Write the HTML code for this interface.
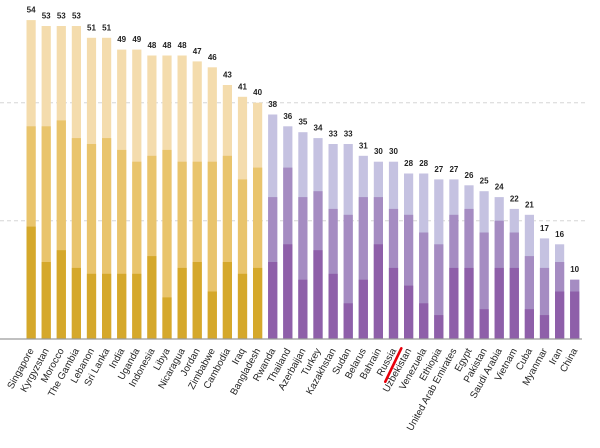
<!DOCTYPE html>
<html><head><meta charset="utf-8"><style>
html,body{margin:0;padding:0;background:#fff;}
svg{display:block;}
.v{font-family:"Liberation Sans",sans-serif;font-size:8px;font-weight:bold;fill:#222;text-anchor:middle;}
.c{font-family:"Liberation Sans",sans-serif;font-size:9.8px;fill:#222;text-anchor:end;}
</style></head><body>
<svg width="600" height="448" viewBox="0 0 600 448" xmlns="http://www.w3.org/2000/svg">
<line x1="0" y1="102.7" x2="586" y2="102.7" stroke="#d6d6d6" stroke-width="1" stroke-dasharray="4,3"/>
<line x1="0" y1="220.7" x2="586" y2="220.7" stroke="#d6d6d6" stroke-width="1" stroke-dasharray="4,3"/>
<g transform="translate(0,338.7) scale(1,-5.9)">
<g fill="#f4dcad">
<rect x="26.5" y="0" width="9.2" height="54"/>
<rect x="41.6" y="0" width="9.2" height="53"/>
<rect x="56.7" y="0" width="9.2" height="53"/>
<rect x="71.8" y="0" width="9.2" height="53"/>
<rect x="86.9" y="0" width="9.2" height="51"/>
<rect x="102.0" y="0" width="9.2" height="51"/>
<rect x="117.1" y="0" width="9.2" height="49"/>
<rect x="132.2" y="0" width="9.2" height="49"/>
<rect x="147.3" y="0" width="9.2" height="48"/>
<rect x="162.4" y="0" width="9.2" height="48"/>
<rect x="177.5" y="0" width="9.2" height="48"/>
<rect x="192.6" y="0" width="9.2" height="47"/>
<rect x="207.7" y="0" width="9.2" height="46"/>
<rect x="222.8" y="0" width="9.2" height="43"/>
<rect x="237.9" y="0" width="9.2" height="41"/>
<rect x="253.0" y="0" width="9.2" height="40"/>
</g>
<g fill="#e9c46c">
<rect x="26.5" y="0" width="9.2" height="36"/>
<rect x="41.6" y="0" width="9.2" height="36"/>
<rect x="56.7" y="0" width="9.2" height="37"/>
<rect x="71.8" y="0" width="9.2" height="34"/>
<rect x="86.9" y="0" width="9.2" height="33"/>
<rect x="102.0" y="0" width="9.2" height="34"/>
<rect x="117.1" y="0" width="9.2" height="32"/>
<rect x="132.2" y="0" width="9.2" height="30"/>
<rect x="147.3" y="0" width="9.2" height="31"/>
<rect x="162.4" y="0" width="9.2" height="32"/>
<rect x="177.5" y="0" width="9.2" height="30"/>
<rect x="192.6" y="0" width="9.2" height="30"/>
<rect x="207.7" y="0" width="9.2" height="30"/>
<rect x="222.8" y="0" width="9.2" height="31"/>
<rect x="237.9" y="0" width="9.2" height="27"/>
<rect x="253.0" y="0" width="9.2" height="29"/>
</g>
<g fill="#d5a82b">
<rect x="26.5" y="0" width="9.2" height="19"/>
<rect x="41.6" y="0" width="9.2" height="13"/>
<rect x="56.7" y="0" width="9.2" height="15"/>
<rect x="71.8" y="0" width="9.2" height="12"/>
<rect x="86.9" y="0" width="9.2" height="11"/>
<rect x="102.0" y="0" width="9.2" height="11"/>
<rect x="117.1" y="0" width="9.2" height="11"/>
<rect x="132.2" y="0" width="9.2" height="11"/>
<rect x="147.3" y="0" width="9.2" height="14"/>
<rect x="162.4" y="0" width="9.2" height="7"/>
<rect x="177.5" y="0" width="9.2" height="12"/>
<rect x="192.6" y="0" width="9.2" height="13"/>
<rect x="207.7" y="0" width="9.2" height="8"/>
<rect x="222.8" y="0" width="9.2" height="13"/>
<rect x="237.9" y="0" width="9.2" height="11"/>
<rect x="253.0" y="0" width="9.2" height="12"/>
</g>
<g fill="#c5c2e1">
<rect x="268.1" y="0" width="9.2" height="38"/>
<rect x="283.2" y="0" width="9.2" height="36"/>
<rect x="298.3" y="0" width="9.2" height="35"/>
<rect x="313.4" y="0" width="9.2" height="34"/>
<rect x="328.5" y="0" width="9.2" height="33"/>
<rect x="343.6" y="0" width="9.2" height="33"/>
<rect x="358.7" y="0" width="9.2" height="31"/>
<rect x="373.8" y="0" width="9.2" height="30"/>
<rect x="388.9" y="0" width="9.2" height="30"/>
<rect x="404.0" y="0" width="9.2" height="28"/>
<rect x="419.1" y="0" width="9.2" height="28"/>
<rect x="434.2" y="0" width="9.2" height="27"/>
<rect x="449.3" y="0" width="9.2" height="27"/>
<rect x="464.4" y="0" width="9.2" height="26"/>
<rect x="479.5" y="0" width="9.2" height="25"/>
<rect x="494.6" y="0" width="9.2" height="24"/>
<rect x="509.7" y="0" width="9.2" height="22"/>
<rect x="524.8" y="0" width="9.2" height="21"/>
<rect x="539.9" y="0" width="9.2" height="17"/>
<rect x="555.0" y="0" width="9.2" height="16"/>
<rect x="570.1" y="0" width="9.2" height="10"/>
</g>
<g fill="#a58cc2">
<rect x="268.1" y="0" width="9.2" height="24"/>
<rect x="283.2" y="0" width="9.2" height="29"/>
<rect x="298.3" y="0" width="9.2" height="24"/>
<rect x="313.4" y="0" width="9.2" height="25"/>
<rect x="328.5" y="0" width="9.2" height="22"/>
<rect x="343.6" y="0" width="9.2" height="21"/>
<rect x="358.7" y="0" width="9.2" height="24"/>
<rect x="373.8" y="0" width="9.2" height="24"/>
<rect x="388.9" y="0" width="9.2" height="22"/>
<rect x="404.0" y="0" width="9.2" height="21"/>
<rect x="419.1" y="0" width="9.2" height="18"/>
<rect x="434.2" y="0" width="9.2" height="16"/>
<rect x="449.3" y="0" width="9.2" height="21"/>
<rect x="464.4" y="0" width="9.2" height="22"/>
<rect x="479.5" y="0" width="9.2" height="18"/>
<rect x="494.6" y="0" width="9.2" height="20"/>
<rect x="509.7" y="0" width="9.2" height="18"/>
<rect x="524.8" y="0" width="9.2" height="14"/>
<rect x="539.9" y="0" width="9.2" height="12"/>
<rect x="555.0" y="0" width="9.2" height="13"/>
<rect x="570.1" y="0" width="9.2" height="10"/>
</g>
<g fill="#8e5fa9">
<rect x="268.1" y="0" width="9.2" height="13"/>
<rect x="283.2" y="0" width="9.2" height="16"/>
<rect x="298.3" y="0" width="9.2" height="10"/>
<rect x="313.4" y="0" width="9.2" height="15"/>
<rect x="328.5" y="0" width="9.2" height="11"/>
<rect x="343.6" y="0" width="9.2" height="6"/>
<rect x="358.7" y="0" width="9.2" height="10"/>
<rect x="373.8" y="0" width="9.2" height="16"/>
<rect x="388.9" y="0" width="9.2" height="12"/>
<rect x="404.0" y="0" width="9.2" height="9"/>
<rect x="419.1" y="0" width="9.2" height="6"/>
<rect x="434.2" y="0" width="9.2" height="4"/>
<rect x="449.3" y="0" width="9.2" height="12"/>
<rect x="464.4" y="0" width="9.2" height="12"/>
<rect x="479.5" y="0" width="9.2" height="5"/>
<rect x="494.6" y="0" width="9.2" height="12"/>
<rect x="509.7" y="0" width="9.2" height="12"/>
<rect x="524.8" y="0" width="9.2" height="5"/>
<rect x="539.9" y="0" width="9.2" height="4"/>
<rect x="555.0" y="0" width="9.2" height="8"/>
<rect x="570.1" y="0" width="9.2" height="8"/>
</g>
</g>
<line x1="0" y1="339" x2="582" y2="339" stroke="#9a9a9a" stroke-width="1.3"/>

<text class="v" x="31.1" y="12.6">54</text>
<text class="v" x="46.2" y="18.5">53</text>
<text class="v" x="61.3" y="18.5">53</text>
<text class="v" x="76.4" y="18.5">53</text>
<text class="v" x="91.5" y="30.3">51</text>
<text class="v" x="106.6" y="30.3">51</text>
<text class="v" x="121.7" y="42.1">49</text>
<text class="v" x="136.8" y="42.1">49</text>
<text class="v" x="151.9" y="48">48</text>
<text class="v" x="167.0" y="48">48</text>
<text class="v" x="182.1" y="48">48</text>
<text class="v" x="197.2" y="53.9">47</text>
<text class="v" x="212.3" y="59.8">46</text>
<text class="v" x="227.4" y="77.5">43</text>
<text class="v" x="242.5" y="89.3">41</text>
<text class="v" x="257.6" y="95.2">40</text>
<text class="v" x="272.7" y="107">38</text>
<text class="v" x="287.8" y="118.8">36</text>
<text class="v" x="302.9" y="124.7">35</text>
<text class="v" x="318.0" y="130.6">34</text>
<text class="v" x="333.1" y="136.5">33</text>
<text class="v" x="348.2" y="136.5">33</text>
<text class="v" x="363.3" y="148.3">31</text>
<text class="v" x="378.4" y="154.2">30</text>
<text class="v" x="393.5" y="154.2">30</text>
<text class="v" x="408.6" y="166">28</text>
<text class="v" x="423.7" y="166">28</text>
<text class="v" x="438.8" y="171.9">27</text>
<text class="v" x="453.9" y="171.9">27</text>
<text class="v" x="469.0" y="177.8">26</text>
<text class="v" x="484.1" y="183.7">25</text>
<text class="v" x="499.2" y="189.6">24</text>
<text class="v" x="514.3" y="201.4">22</text>
<text class="v" x="529.4" y="207.3">21</text>
<text class="v" x="544.5" y="230.9">17</text>
<text class="v" x="559.6" y="236.8">16</text>
<text class="v" x="574.7" y="272.2">10</text>

<line x1="385.3" y1="381.7" x2="401.3" y2="348.3" stroke="#e8000b" stroke-width="2.6" stroke-linecap="round"/>

<text class="c" transform="translate(34.1,350.5) rotate(-61)">Singapore</text>
<text class="c" transform="translate(49.2,350.5) rotate(-61)">Kyrgyzstan</text>
<text class="c" transform="translate(64.3,350.5) rotate(-61)">Morocco</text>
<text class="c" transform="translate(79.4,350.5) rotate(-61)">The Gambia</text>
<text class="c" transform="translate(94.5,350.5) rotate(-61)">Lebanon</text>
<text class="c" transform="translate(109.6,350.5) rotate(-61)">Sri Lanka</text>
<text class="c" transform="translate(124.7,350.5) rotate(-61)">India</text>
<text class="c" transform="translate(139.8,350.5) rotate(-61)">Uganda</text>
<text class="c" transform="translate(154.9,350.5) rotate(-61)">Indonesia</text>
<text class="c" transform="translate(170.0,350.5) rotate(-61)">Libya</text>
<text class="c" transform="translate(185.1,350.5) rotate(-61)">Nicaragua</text>
<text class="c" transform="translate(200.2,350.5) rotate(-61)">Jordan</text>
<text class="c" transform="translate(215.3,350.5) rotate(-61)">Zimbabwe</text>
<text class="c" transform="translate(230.4,350.5) rotate(-61)">Cambodia</text>
<text class="c" transform="translate(245.5,350.5) rotate(-61)">Iraq</text>
<text class="c" transform="translate(260.6,350.5) rotate(-61)">Bangladesh</text>
<text class="c" transform="translate(275.7,350.5) rotate(-61)">Rwanda</text>
<text class="c" transform="translate(290.8,350.5) rotate(-61)">Thailand</text>
<text class="c" transform="translate(305.9,350.5) rotate(-61)">Azerbaijan</text>
<text class="c" transform="translate(321.0,350.5) rotate(-61)">Turkey</text>
<text class="c" transform="translate(336.1,350.5) rotate(-61)">Kazakhstan</text>
<text class="c" transform="translate(351.2,350.5) rotate(-61)">Sudan</text>
<text class="c" transform="translate(366.3,350.5) rotate(-61)">Belarus</text>
<text class="c" transform="translate(381.4,350.5) rotate(-61)">Bahrain</text>
<text class="c" transform="translate(396.5,350.5) rotate(-61)">Russia</text>
<text class="c" transform="translate(411.6,350.5) rotate(-61)">Uzbekistan</text>
<text class="c" transform="translate(426.7,350.5) rotate(-61)">Venezuela</text>
<text class="c" transform="translate(441.8,350.5) rotate(-61)">Ethiopia</text>
<text class="c" transform="translate(456.9,350.5) rotate(-61)">United Arab Emirates</text>
<text class="c" transform="translate(472.0,350.5) rotate(-61)">Egypt</text>
<text class="c" transform="translate(487.1,350.5) rotate(-61)">Pakistan</text>
<text class="c" transform="translate(502.2,350.5) rotate(-61)">Saudi Arabia</text>
<text class="c" transform="translate(517.3,350.5) rotate(-61)">Vietnam</text>
<text class="c" transform="translate(532.4,350.5) rotate(-61)">Cuba</text>
<text class="c" transform="translate(547.5,350.5) rotate(-61)">Myanmar</text>
<text class="c" transform="translate(562.6,350.5) rotate(-61)">Iran</text>
<text class="c" transform="translate(577.7,350.5) rotate(-61)">China</text>
</svg>
</body></html>
